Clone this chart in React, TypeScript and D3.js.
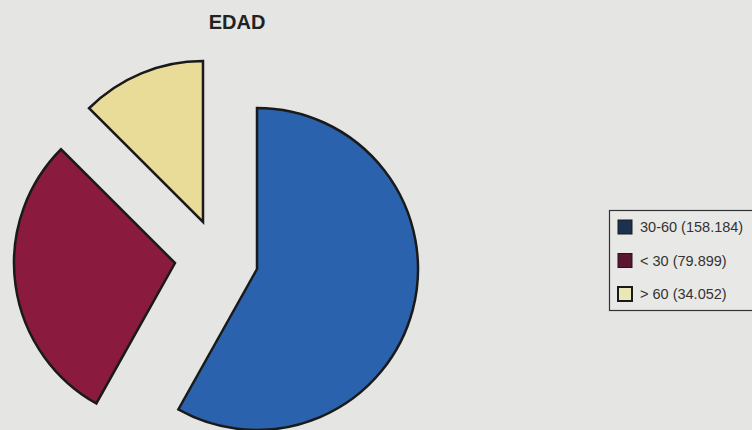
import React, { useRef, useEffect } from 'react';
import * as d3 from 'd3';

const categories = ['30-60', '< 30', '> 60'];
const values = [158.184, 79.899, 34.052];
const valueLabels = ['158.184', '79.899', '34.052'];
const sliceColors = ['#2b62ae', '#8a1a3e', '#e8dc98'];
const swatchColors = ['#1c3050', '#5a1530', '#e9e8b6'];

function App() {
    const svgRef = useRef<SVGSVGElement | null>(null);

    useEffect(() => {
        if (!svgRef.current) return;
        d3.select(svgRef.current).selectAll('*').remove();

        const width = 752;
        const height = 430;
        const radius = 161;
        // pie centre and the pull-out of each slice
        const cx = 215;
        const cy = 250;
        const explode: [number, number][] = [[42, 19], [-40, 13], [-12, -28]];

        const svg = d3.select(svgRef.current)
            .attr('width', width)
            .attr('height', height);

        svg.append('rect')
            .attr('width', width)
            .attr('height', height)
            .attr('fill', '#e5e5e3');

        // Title
        svg.append('text')
            .attr('x', 237)
            .attr('y', 29)
            .attr('text-anchor', 'middle')
            .attr('font-family', 'Liberation Sans, Arial, sans-serif')
            .attr('font-weight', 'bold')
            .attr('font-size', 20)
            .attr('fill', '#222')
            .text('EDAD');

        const pie = d3.pie<number>().sort(null).value(d => d);
        const arcs = pie(values);
        const arc = d3.arc<d3.PieArcDatum<number>>().innerRadius(0).outerRadius(radius);

        svg.append('g')
            .attr('transform', `translate(${cx},${cy})`)
            .selectAll('path')
            .data(arcs)
            .join('path')
            .attr('transform', (d, i) => `translate(${explode[i][0]},${explode[i][1]})`)
            .attr('d', arc)
            .attr('fill', (d, i) => sliceColors[i])
            .attr('stroke', '#1a1a1a')
            .attr('stroke-width', 2.5)
            .attr('stroke-linejoin', 'miter');

        // Legend
        const legend = svg.append('g').attr('transform', 'translate(609,210)');
        legend.append('rect')
            .attr('x', 0.5)
            .attr('y', 0.5)
            .attr('width', 160)
            .attr('height', 100)
            .attr('fill', '#e8e8e6')
            .attr('stroke', '#333')
            .attr('stroke-width', 1.2);

        const rowY = d3.scalePoint<string>()
            .domain(categories)
            .range([17, 84]);

        const rows = legend.selectAll('g.row')
            .data(categories)
            .join('g')
            .attr('class', 'row')
            .attr('transform', d => `translate(0,${rowY(d)})`);

        rows.append('rect')
            .attr('x', 9)
            .attr('y', -7)
            .attr('width', 14)
            .attr('height', 14)
            .attr('fill', (d, i) => swatchColors[i])
            .attr('stroke', '#1a1a1a')
            .attr('stroke-width', (d, i) => i === 2 ? 2 : 1);

        rows.append('text')
            .attr('x', 31)
            .attr('y', 5)
            .attr('font-family', 'Liberation Sans, Arial, sans-serif')
            .attr('font-size', 14.5)
            .attr('fill', '#333')
            .text((d, i) => `${d} (${valueLabels[i]})`);
    }, []);

    return (
        <div>
            <svg ref={svgRef} style={{ position: 'absolute', left: 0, top: 0, display: 'block' }}></svg>
        </div>
    );
}

export default App;
